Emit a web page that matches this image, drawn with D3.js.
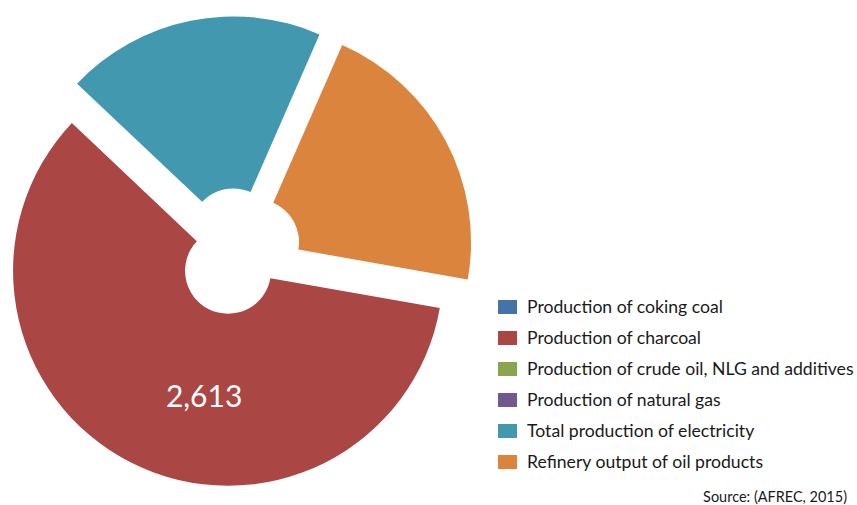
<!DOCTYPE html>
<html>
<head>
<meta charset="utf-8">
<script src="https://cdn.jsdelivr.net/npm/d3@7/dist/d3.min.js"></script>
<style>
  html, body { margin: 0; padding: 0; background: #fff; }
  svg { display: block; }
  text { font-family: Lato, "Open Sans", sans-serif; }
</style>
</head>
<body>
<svg id="chart" width="857" height="505"></svg>
<script>
const categories = [
  "Production of coking coal",
  "Production of charcoal",
  "Production of crude oil, NLG and additives",
  "Production of natural gas",
  "Total production of electricity",
  "Refinery output of oil products"
];
const values = [0, 2613, 0, 0, 860, 935];
const labelled = [false, true, false, false, false, false];
const colors = ["#4572A7", "#AA4643", "#89A54E", "#71588F", "#4198AF", "#DB843D"];
const sourceText = "Source: (AFREC, 2015)";

const svg = d3.select("#chart");
const cx = 237.5, cy = 252, R = 215, r0 = 43, explode = 21;
const startDeg = 100;

const data = categories.map((c, i) => ({ cat: c, value: values[i], color: colors[i], label: labelled[i] }));

const pie = d3.pie().sort(null).value(d => d.value)
  .startAngle(startDeg * Math.PI / 180)
  .endAngle(startDeg * Math.PI / 180 + 2 * Math.PI);
const arc = d3.arc().innerRadius(r0).outerRadius(R);
const fmt = d3.format(",");

const arcs = pie(data).filter(d => d.data.value > 0);
const g = svg.append("g").attr("transform", `translate(${cx},${cy})`);

const slices = g.selectAll("g.slice").data(arcs).join("g")
  .attr("class", "slice")
  .attr("transform", d => {
    const a = (d.startAngle + d.endAngle) / 2;
    return `translate(${explode * Math.sin(a)},${-explode * Math.cos(a)})`;
  });

slices.append("path").attr("d", arc).attr("fill", d => d.data.color);

slices.filter(d => d.data.label).append("text")
  .attr("transform", d => {
    const c = arc.centroid(d);
    return `translate(${c[0] + 34},${c[1] + 21})`;
  })
  .attr("text-anchor", "middle")
  .attr("fill", "#fff")
  .attr("font-size", 30)
  .text(d => fmt(d.data.value));

// Legend
const lx = 498, ly = 300, rowH = 31;
const legend = svg.append("g");
const items = legend.selectAll("g").data(data).join("g")
  .attr("transform", (d, i) => `translate(${lx},${ly + i * rowH})`);
items.append("rect").attr("width", 19).attr("height", 14).attr("fill", d => d.color);
const texts = items.append("text").attr("x", 29).attr("y", 13)
  .attr("font-size", 16).attr("fill", "#1a1a1a").text(d => d.cat);
// fit font size so first entry is ~196px wide
const w0 = texts.nodes()[0].getComputedTextLength();
const fs = 16 * 196 / w0;
texts.attr("font-size", fs);

const src = svg.append("text").attr("x", 847).attr("y", 502)
  .attr("text-anchor", "end").attr("font-size", 13).attr("fill", "#1a1a1a").text(sourceText);
const sw = src.node().getComputedTextLength();
src.attr("font-size", 13 * 144 / sw);
</script>
</body>
</html>
